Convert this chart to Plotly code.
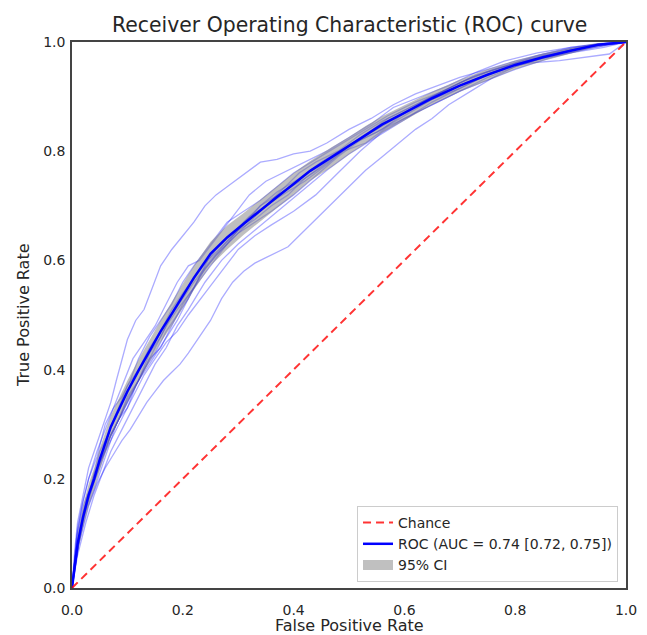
import plotly.graph_objects as go

# ---------------- data ----------------
mean_fpr = [0, .01, .02, .03, .04, .05, .06, .07, .08, .09, .10, .12, .14, .16, .18, .20, .22, .25, .28,
            .31, .34, .37, .40, .43, .47, .50, .53, .56, .60, .65, .70, .75, .80, .85, .90, .95, 1]
mean_tpr = [0, .08, .13, .17, .20, .235, .265, .295, .317, .34, .36, .398, .435, .47, .502, .535, .568, .612, .642,
            .667, .692, .716, .74, .764, .79, .81, .83, .849, .87, .897, .92, .94, .958, .972, .984, .995, 1]
ci_lower = [0, .065, .11, .15, .18, .215, .245, .275, .297, .32, .34, .378, .415, .45, .48, .513, .546, .59, .62,
            .647, .672, .696, .72, .746, .772, .794, .814, .834, .856, .885, .909, .93, .95, .965, .979, .992, 1]
ci_upper = [0, .095, .15, .19, .22, .255, .285, .315, .337, .36, .38, .418, .455, .49, .524, .557, .59, .634, .664,
            .687, .712, .736, .76, .782, .808, .826, .846, .864, .884, .909, .931, .95, .966, .979, .989, .998, 1]

boot_a_fpr = [0, .005, .012, .02, .03, .045, .06, .075, .09, .105, .12, .135, .15, .165, .18, .195, .21, .23, .25, .27,
              .29, .31, .33, .35, .37, .39, .41, .43, .45, .47, .50, .53, .56, .59, .62, .65, .68, .72, .76, .80, .85, .90, .95, 1]
boot_a_tpr = [0, .04, .08, .11, .15, .19, .22, .245, .27, .29, .315, .34, .36, .38, .395, .41, .43, .46, .49, .53,
              .56, .58, .595, .605, .615, .625, .645, .665, .685, .705, .735, .765, .79, .815, .84, .86, .885, .91, .935, .955, .972, .985, .995, 1]

boot_b_fpr = [0, .005, .01, .02, .03, .04, .05, .06, .07, .08, .09, .10, .115, .13, .145, .16, .18, .20, .22, .24, .26,
              .28, .30, .32, .34, .37, .40, .43, .46, .50, .54, .58, .62, .66, .70, .75, .80, .85, .90, .95, 1]
boot_b_tpr = [0, .07, .12, .17, .22, .25, .28, .31, .34, .38, .42, .455, .49, .51, .55, .59, .62, .645, .67, .70, .72,
              .735, .75, .765, .78, .785, .795, .80, .815, .84, .86, .885, .905, .92, .935, .95, .965, .978, .988, .996, 1]

boot_c_fpr = [0, .01, .02, .035, .05, .065, .08, .10, .12, .14, .16, .18, .20, .23, .26, .29, .32, .35, .38, .41, .44,
              .48, .52, .56, .60, .65, .70, .75, .80, .85, .90, .95, 1]
boot_c_tpr = [0, .10, .15, .19, .25, .28, .32, .37, .40, .44, .47, .51, .54, .58, .62, .65, .68, .70, .73, .76, .78,
              .80, .83, .855, .875, .90, .925, .945, .96, .975, .985, .994, 1]

boot_d_fpr = [0, .01, .025, .04, .055, .07, .09, .11, .13, .15, .17, .19, .21, .24, .27, .30, .33, .36, .39, .42, .46,
              .50, .54, .58, .62, .66, .70, .75, .80, .85, .90, .96, 1]
boot_d_tpr = [0, .06, .12, .17, .21, .25, .29, .33, .37, .41, .44, .48, .51, .56, .60, .63, .655, .68, .705, .73, .765,
              .795, .82, .845, .87, .89, .91, .935, .955, .97, .98, .99, 1]

boot_e_fpr = [0, .008, .018, .03, .045, .06, .075, .09, .105, .12, .14, .16, .18, .20, .22, .25, .28, .31, .34, .37,
              .40, .44, .48, .52, .57, .62, .67, .72, .78, .84, .90, .95, 1]
boot_e_tpr = [0, .09, .15, .20, .25, .29, .33, .35, .38, .42, .46, .49, .52, .56, .59, .63, .67, .69, .71, .735,
              .76, .785, .81, .835, .865, .89, .91, .935, .955, .975, .99, .997, 1]

boot_f_fpr = [0, .012, .025, .04, .06, .08, .10, .12, .14, .165, .19, .215, .24, .27, .30, .33, .36, .40, .44, .48,
              .52, .56, .60, .64, .68, .73, .78, .83, .88, .93, .97, 1]
boot_f_tpr = [0, .08, .14, .18, .24, .30, .345, .38, .41, .45, .49, .54, .585, .62, .65, .67, .69, .72, .755, .79,
              .82, .84, .87, .895, .915, .94, .955, .962, .966, .972, .978, 1]

boot_g_fpr = [0, .007, .015, .03, .045, .06, .08, .10, .12, .14, .16, .18, .20, .22, .25, .28, .31, .34, .37, .41,
              .45, .49, .53, .57, .61, .66, .71, .76, .81, .86, .91, .96, 1]
boot_g_tpr = [0, .05, .11, .16, .21, .26, .30, .34, .38, .43, .46, .50, .53, .56, .60, .635, .665, .70, .725, .75,
              .78, .805, .83, .86, .88, .905, .93, .95, .965, .978, .99, .997, 1]

boot_h_fpr = [0, .01, .02, .035, .05, .07, .09, .11, .13, .15, .17, .19, .21, .24, .27, .30, .33, .36, .40, .44,
              .48, .52, .56, .60, .65, .70, .75, .80, .86, .92, .97, 1]
boot_h_tpr = [0, .07, .13, .18, .23, .27, .31, .35, .39, .42, .45, .47, .50, .54, .58, .62, .645, .665, .69, .72,
              .76, .80, .835, .86, .885, .91, .93, .95, .97, .985, .995, 1]

boot_i_fpr = [0, .01, .02, .03, .045, .06, .075, .09, .11, .13, .15, .17, .19, .21, .23, .26, .29, .32, .35, .38,
              .42, .46, .50, .54, .58, .63, .68, .73, .78, .84, .90, .95, 1]
boot_i_tpr = [0, .11, .16, .20, .24, .30, .33, .37, .42, .45, .48, .52, .56, .59, .60, .64, .68, .72, .745, .76,
              .78, .80, .825, .85, .88, .90, .92, .945, .965, .98, .99, .996, 1]

boot_j_fpr = [0, .015, .03, .05, .07, .09, .11, .13, .15, .17, .19, .22, .25, .28, .31, .34, .38, .42, .46, .50,
              .55, .60, .65, .70, .76, .82, .88, .94, 1]
boot_j_tpr = [0, .10, .17, .22, .28, .32, .36, .40, .44, .48, .51, .55, .59, .63, .67, .70, .725, .75, .78, .81,
              .84, .87, .895, .92, .945, .965, .98, .993, 1]

boot_k_fpr = [0, .006, .014, .025, .04, .055, .07, .085, .10, .12, .14, .16, .18, .20, .22, .245, .27, .30, .33, .36,
              .39, .42, .45, .49, .53, .57, .61, .65, .70, .75, .80, .86, .92, .97, 1]
boot_k_tpr = [0, .06, .10, .16, .20, .24, .28, .31, .35, .38, .42, .44, .48, .52, .55, .60, .625, .655, .675, .70,
              .72, .75, .77, .80, .815, .845, .865, .89, .915, .94, .96, .975, .99, .996, 1]

boot_l_fpr = [0, .01, .02, .03, .04, .055, .07, .085, .10, .115, .13, .15, .17, .19, .21, .23, .26, .29, .32, .35,
              .38, .42, .46, .50, .55, .60, .65, .70, .75, .81, .87, .93, 1]
boot_l_tpr = [0, .09, .14, .17, .21, .24, .28, .31, .33, .37, .40, .43, .47, .50, .53, .57, .61, .64, .67, .70,
              .72, .745, .775, .81, .835, .865, .895, .915, .94, .96, .975, .988, 1]

boot_fprs = [boot_a_fpr, boot_b_fpr, boot_c_fpr, boot_d_fpr, boot_e_fpr, boot_f_fpr,
             boot_g_fpr, boot_h_fpr, boot_i_fpr, boot_j_fpr, boot_k_fpr, boot_l_fpr]
boot_tprs = [boot_a_tpr, boot_b_tpr, boot_c_tpr, boot_d_tpr, boot_e_tpr, boot_f_tpr,
             boot_g_tpr, boot_h_tpr, boot_i_tpr, boot_j_tpr, boot_k_tpr, boot_l_tpr]

chance_x = [0, 1]
chance_y = [0, 1]

title_text = "Receiver Operating Characteristic (ROC) curve"
roc_label = "ROC (AUC = 0.74 [0.72, 0.75])"
tick_vals = [0, 0.2, 0.4, 0.6, 0.8, 1.0]
tick_text = ["0.0", "0.2", "0.4", "0.6", "0.8", "1.0"]

# ---------------- figure ----------------
FONT = "DejaVu Sans"
TXT = "#262626"
fig = go.Figure()

for bx, by in zip(boot_fprs, boot_tprs):
    fig.add_trace(go.Scatter(x=bx, y=by, mode="lines",
                             line=dict(color="rgba(0,0,255,0.33)", width=1.3),
                             showlegend=False, hoverinfo="skip"))

fig.add_trace(go.Scatter(x=mean_fpr, y=ci_lower, mode="lines", line=dict(width=0),
                         showlegend=False, hoverinfo="skip"))
fig.add_trace(go.Scatter(x=mean_fpr, y=ci_upper, mode="lines", line=dict(width=0),
                         fill="tonexty", fillcolor="rgba(128,128,128,0.5)",
                         showlegend=False, hoverinfo="skip"))
fig.add_trace(go.Scatter(x=mean_fpr, y=mean_tpr, mode="lines",
                         line=dict(color="#0000ff", width=2.5),
                         name=roc_label, legendrank=2))
fig.add_trace(go.Scatter(x=chance_x, y=chance_y, mode="lines",
                         line=dict(color="rgba(255,0,0,0.8)", width=2, dash="8px,5px"),
                         name="Chance", legendrank=1))
# legend swatch for the CI band
fig.add_trace(go.Scatter(x=[None], y=[None], mode="lines",
                         line=dict(color="#c0c0c0", width=10),
                         name="95% CI", legendrank=3))

axis_common = dict(range=[0, 1], showgrid=False, zeroline=False, showline=True, mirror=True,
                   linecolor="#444444", linewidth=1.5, tickvals=tick_vals, automargin=False,
                   ticktext=tick_text, tickfont=dict(family=FONT, size=14, color=TXT))

fig.update_layout(
    width=647, height=635,
    margin=dict(l=72, r=21, t=42, b=47),
    paper_bgcolor="white", plot_bgcolor="white",
    font=dict(family=FONT, color=TXT),
    xaxis=dict(**axis_common, ticks="outside", ticklen=8, tickcolor="rgba(0,0,0,0)"),
    yaxis=dict(**axis_common, ticks="", ticklabelstandoff=2),
    showlegend=True,
    legend=dict(x=0.9856, y=0.011, xanchor="right", yanchor="bottom",
                bgcolor="rgba(255,255,255,0.85)", bordercolor="#cccccc", borderwidth=1,
                font=dict(family=FONT, size=14, color=TXT), traceorder="normal"),
    annotations=[
        dict(text=title_text, xref="paper", yref="paper", x=0.5, y=1, yanchor="middle",
             yshift=17, showarrow=False, font=dict(family=FONT, size=20.4, color=TXT)),
        dict(text="False Positive Rate", xref="paper", yref="paper", x=0.5, y=0,
             yanchor="middle", yshift=-37, showarrow=False,
             font=dict(family=FONT, size=16, color=TXT)),
        dict(text="True Positive Rate", xref="paper", yref="paper", x=0, y=0.5,
             xanchor="center", xshift=-49, textangle=-90, showarrow=False,
             font=dict(family=FONT, size=16, color=TXT)),
    ],
)

fig.write_html("out.html", config={"displayModeBar": False},
               post_script="document.body.style.margin='0px';document.body.style.overflow='hidden';")
